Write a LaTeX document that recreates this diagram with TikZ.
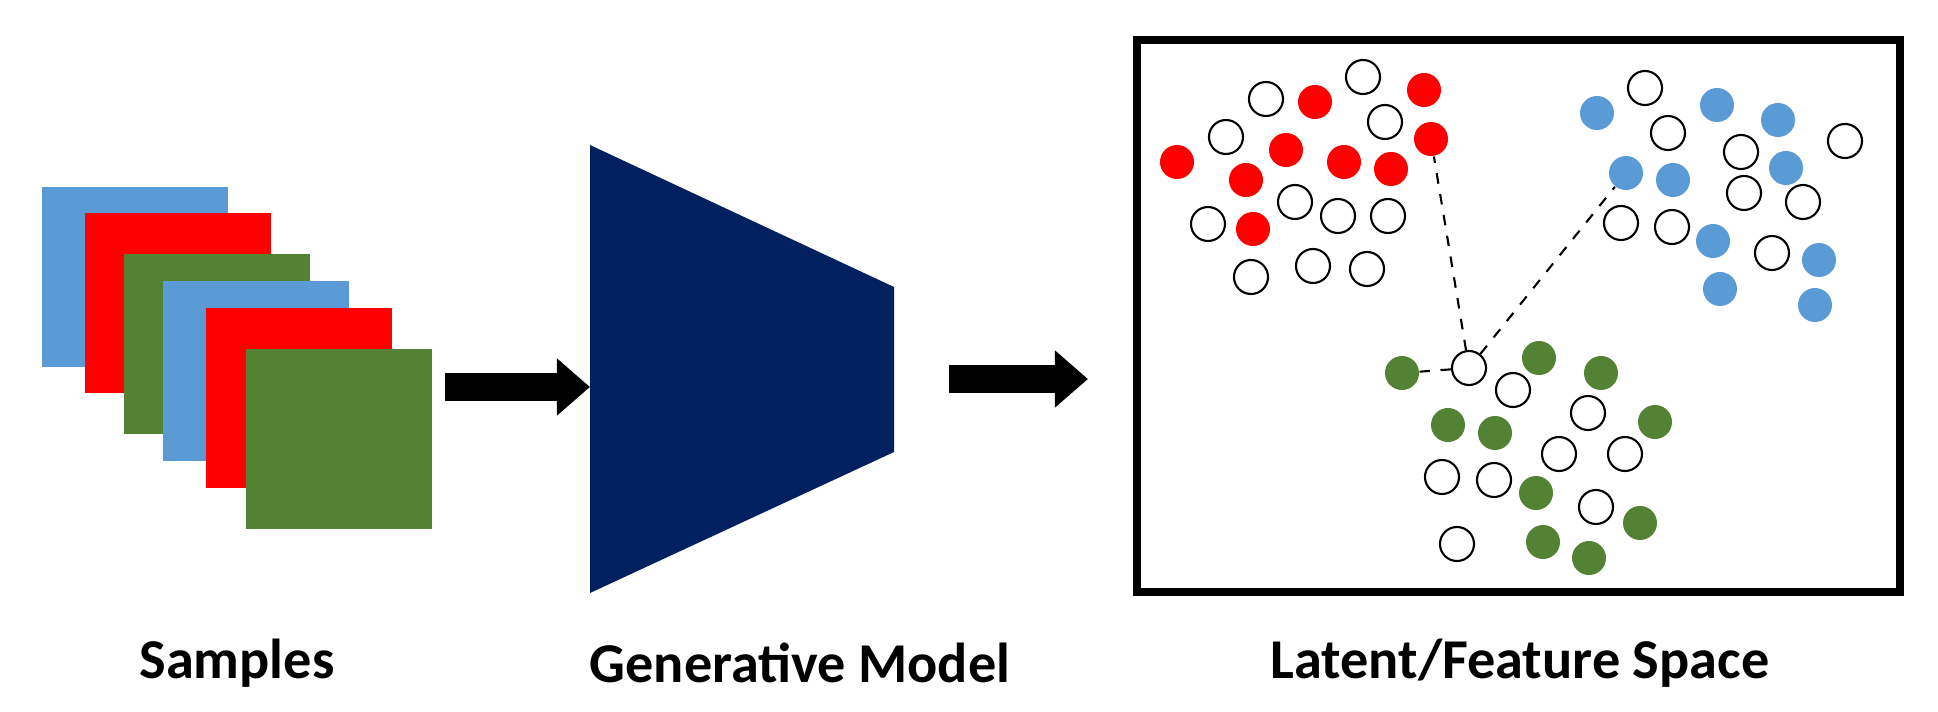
\documentclass[tikz,border=0pt]{standalone}
\usepackage{fontspec}
\setmainfont{Carlito}
\usetikzlibrary{calc,arrows.meta}
\definecolor{skyblue}{RGB}{91,155,213}
\definecolor{leaf}{RGB}{84,130,53}
\definecolor{navy}{RGB}{0,32,96}
\tikzset{
    dot/.style={circle,minimum size=0.34cm,inner sep=0pt},
    hollow/.style={dot,draw=black,line width=0.6pt,fill=white},
    sample/.style={draw=none},
    bigarrow/.style={-{Triangle[length=0.33cm,width=0.55cm]},line width=0.28cm},
    caption/.style={font=\fontsize{16}{19}\selectfont\bfseries}
}
\begin{document}
\begin{tikzpicture}[x=0.01cm,y=-0.01cm]
\useasboundingbox (0,0) rectangle (1938,712);
% stacked samples
\foreach \x/\y/\c [count=\i] in {42/187/skyblue,85/213/red,124/254/leaf,163/281/skyblue,206/308/red,246/349/leaf}
    \fill[\c] (\x,\y) rectangle ++(186,180);
\coordinate (s) at (445,387);
\coordinate (g) at (590,387);
% generative model
\fill[navy] (590,145) -- (894,287) -- (894,452) -- (590,593) -- cycle;
\draw[bigarrow] (s) -- (g);
\coordinate (m) at (949,379);
\coordinate (f) at (1088,379);
\draw[bigarrow] (m) -- (f);
% latent space
\draw[line width=0.75mm] (1137,40) rectangle (1900,592);
\foreach \p [count=\i] in {(1424,90),(1315,102),(1177,162),(1286,150),(1344,162),(1391,169),(1431,139),(1246,180),(1253,229)}
    \node[dot,fill=red] (r\i) at \p {};
\foreach \p [count=\i] in {(1597,113),(1717,105),(1778,120),(1626,173),(1673,180),(1786,168),(1713,241),(1819,260),(1720,289),(1815,305)}
    \node[dot,fill=skyblue] (b\i) at \p {};
\foreach \p [count=\i] in {(1402,373),(1539,358),(1601,373),(1448,425),(1495,433),(1655,422),(1536,493),(1640,523),(1543,542),(1589,558)}
    \node[dot,fill=leaf] (g\i) at \p {};
\foreach \p [count=\i] in {(1363,77),(1266,99),(1385,122),(1226,137),(1295,202),(1338,216),(1388,216),(1208,224),(1251,277),(1313,266),(1367,269),
    (1645,88),(1668,133),(1741,152),(1845,141),(1744,193),(1803,202),(1621,223),(1672,227),(1772,253),
    (1513,390),(1588,413),(1559,454),(1625,454),(1442,477),(1494,480),(1596,507),(1457,544)}
    \node[hollow] (o\i) at \p {};
\node[hollow] (hub) at (1469,368) {};
\draw[dashed,line width=0.6pt] (hub) -- (r7);
\draw[dashed,line width=0.6pt] (hub) -- (b4);
\draw[dashed,line width=0.6pt] (hub) -- (g1);
% labels
\node[caption] (l1) at (237,663) {Samples};
\node[caption] (l2) at (800,663) {Generative Model};
\node[caption] (l3) at (1520,663) {Latent/Feature Space};
\end{tikzpicture}
\end{document}
